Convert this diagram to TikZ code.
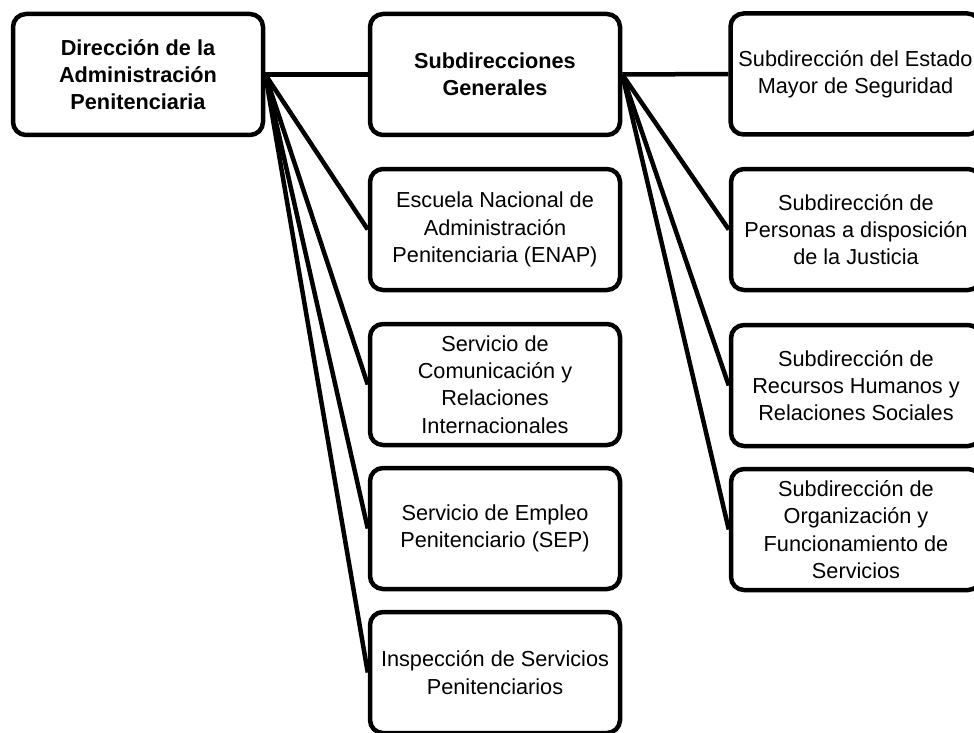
\documentclass[tikz,border=0pt]{standalone}
\usepackage{fontspec}
\setmainfont{Liberation Sans}
\usetikzlibrary{backgrounds}
\begin{document}
\begin{tikzpicture}[x=1pt,y=-1pt,
  box/.style={draw=black, line width=4.5pt, rounded corners=13pt, fill=white,
    minimum width=250pt, minimum height=121pt, align=center, inner sep=2pt,
    font=\fontsize{21.7}{27.3}\selectfont},
  boldbox/.style={box, font=\fontsize{21.7}{27.3}\selectfont\bfseries},
  link/.style={draw=black, line width=4.5pt}]
\useasboundingbox (0,0) rectangle (974,733);
\node[boldbox] (b1) at (138,74.5) {Dirección de la\\Administración\\Penitenciaria};
\node[boldbox] (b2) at (495,74.5) {Subdirecciones\\Generales};
\node[box] (b3) at (855.5,74) {Subdirección del Estado\\Mayor de Seguridad};
\node[box] (enap) at (495,229.5) {Escuela Nacional de\\Administración\\Penitenciaria (ENAP)};
\node[box] (com) at (495,384.5) {Servicio de\\Comunicación y\\Relaciones\\Internacionales};
\node[box] (emp) at (495,528.5) {Servicio de Empleo\\Penitenciario (SEP)};
\node[box] (ins) at (495,672.5) {Inspección de Servicios\\Penitenciarios};
\node[box] (per) at (856,229.5) {Subdirección de\\Personas a disposición\\de la Justicia};
\node[box] (rec) at (856,385.5) {Subdirección de\\Recursos Humanos y\\Relaciones Sociales};
\node[box] (org) at (856,529.5) {Subdirección de\\Organización y\\Funcionamiento de\\Servicios};
\begin{scope}[on background layer]
\draw[link] (b1.east) -- (b2.west);
\draw[link] (b1.east) -- (enap.west);
\draw[link] (b1.east) -- (com.west);
\draw[link] (b1.east) -- (emp.west);
\draw[link] (b1.east) -- (ins.west);
\draw[link] (b2.east) -- (b3.west);
\draw[link] (b2.east) -- (per.west);
\draw[link] (b2.east) -- (rec.west);
\draw[link] (b2.east) -- (org.west);
\end{scope}
\end{tikzpicture}
\end{document}
